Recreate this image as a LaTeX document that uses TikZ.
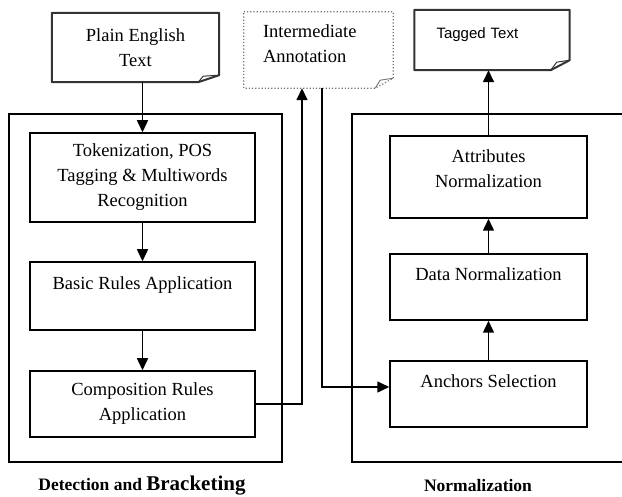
\documentclass[tikz,border=0pt]{standalone}
\usepackage{fontspec}
\setmainfont{Liberation Serif}
\newfontfamily\tagfont{Liberation Sans}
\usetikzlibrary{arrows.meta}

\tikzset{
  stage/.style={draw, line width=1.5pt, align=center, inner sep=0pt,
    font=\fontsize{18.5}{25}\selectfont},
  doc/.style={align=center, inner sep=0pt, font=\fontsize{18.5}{25}\selectfont},
  docedge/.style={line width=2pt, draw=black!80, line join=round},
  arr/.style={line width=1.5pt, -{Triangle[width=11pt,length=12pt]}},
  caption/.style={font=\bfseries}
}

\begin{document}
\begin{tikzpicture}[x=1pt, y=-1pt]
\useasboundingbox (0,0) rectangle (622,497);
% 外框
\draw[line width=1.5pt] (9,114) rectangle (282,462);
\draw[line width=1.5pt] (623,114) -- (352,114) -- (352,462) -- (623,462);
% 文档
\node[doc, minimum width=167pt, minimum height=69pt] (plain) at (135.5,47.5) {Plain English\\Text};
\draw[docedge] (plain.north west) -- (plain.north east) -- ([yshift=7pt]plain.south east)
  -- ([xshift=-21pt]plain.south east) -- (plain.south west) -- cycle;
\draw[docedge, line width=1pt] ([xshift=-21pt]plain.south east) -- ([xshift=-16pt,yshift=6pt]plain.south east)
  -- ([yshift=7pt]plain.south east);
\node[doc, align=left, text width=111pt, inner xsep=19pt, minimum height=76pt] (inter) at (318.5,50)
  {Intermediate\\Annotation\\[-12pt]\mbox{}};
\draw[draw=black!55, dotted, line width=1.2pt] (inter.north west) -- (inter.north east) -- ([yshift=10pt]inter.south east)
  -- ([xshift=-18pt]inter.south east) -- (inter.south west) -- cycle;
\draw[draw=black!55, line width=0.9pt] ([xshift=-18pt]inter.south east) -- ([xshift=-13pt,yshift=8pt]inter.south east)
  -- ([yshift=10pt]inter.south east);
\node[doc, align=left, text width=111pt, inner xsep=22pt, minimum height=60pt,
  font=\tagfont\fontsize{15}{18}\selectfont] (tagged) at (492,40) {Tagged Text\\[-4pt]\mbox{}};
\draw[docedge] (tagged.north west) -- (tagged.north east) -- ([yshift=10pt]tagged.south east)
  -- ([xshift=-19pt]tagged.south east) -- (tagged.south west) -- cycle;
\draw[docedge, line width=1pt] ([xshift=-19pt]tagged.south east) -- ([xshift=-13pt,yshift=8pt]tagged.south east)
  -- ([yshift=10pt]tagged.south east);
% 检测与括注
\node[stage, minimum width=225pt, minimum height=89pt] (tok) at (142.5,177.5)
  {Tokenization, POS\\Tagging \& Multiwords\\Recognition};
\node[stage, minimum width=225pt, minimum height=68pt] (basic) at (142.5,296)
  {Basic Rules Application\\\mbox{}};
\node[stage, minimum width=225pt, minimum height=66pt] (comp) at (142.5,404)
  {Composition Rules\\Application};
% 规范化
\node[stage, minimum width=197pt, minimum height=82pt] (attr) at (488.5,177)
  {Attributes\\Normalization\\[-9pt]\mbox{}};
\node[stage, minimum width=197pt, minimum height=66pt] (data) at (488.5,287)
  {Data Normalization\\\mbox{}};
\node[stage, minimum width=197pt, minimum height=66pt] (anch) at (488.5,394)
  {Anchors Selection\\\mbox{}};
% 箭头
\draw[arr] (tok.north |- plain.south) -- (tok.north);
\draw[arr] (tok) -- (basic);
\draw[arr] (basic) -- (comp);
\draw[arr] (comp.east) -| ([xshift=-16.5pt]inter.south);
\draw[arr] ([xshift=3.5pt]inter.south) |- ([yshift=7pt]anch.west);
\draw[arr] (anch) -- (data);
\draw[arr] (data) -- (attr);
\draw[arr] (attr.north) -- (attr.north |- tagged.south);
% 标题
\node[caption] (leftcap) at (142,486) {\fontsize{17.5}{20}\selectfont Detection and {\fontsize{21}{20}\selectfont Bracketing}};
\node[caption, font=\bfseries\fontsize{17.5}{20}\selectfont] (rightcap) at (478,486) {Normalization};
\end{tikzpicture}
\end{document}
